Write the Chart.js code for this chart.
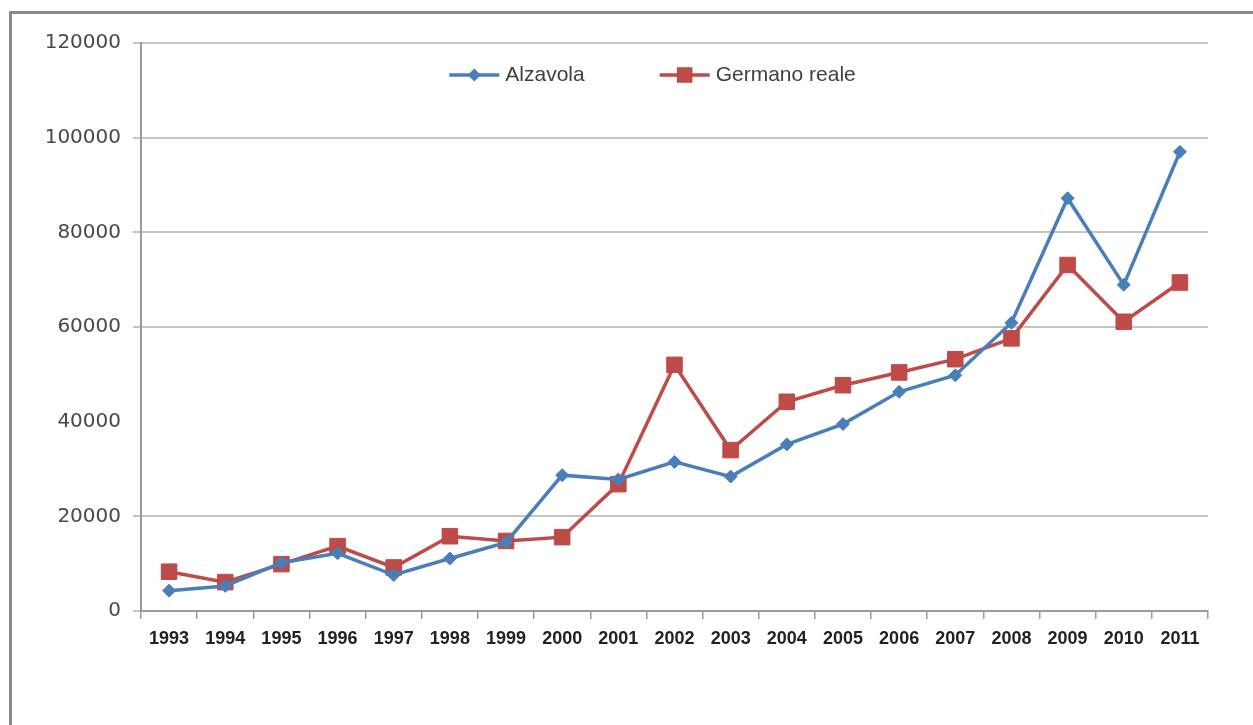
<!DOCTYPE html>
<html>
<head>
<meta charset="utf-8">
<script src="https://cdn.jsdelivr.net/npm/chart.js@4/dist/chart.umd.min.js"></script>
<style>
  html, body { margin: 0; padding: 0; background: #fff; }
  #wrap { position: relative; width: 1253px; height: 725px; overflow: hidden; background: #fff; }
  #frame { position: absolute; left: 9px; top: 11px; width: 1300px; height: 800px;
           border-left: 3px solid #8a8a8a; border-top: 3px solid #8a8a8a; }
  canvas { position: absolute; left: 0; top: 0; }
</style>
</head>
<body>
<div id="wrap">
  <div id="frame"></div>
  <canvas id="chart" width="1253" height="725"></canvas>
</div>
<script>
const years = ['1993','1994','1995','1996','1997','1998','1999','2000','2001','2002',
               '2003','2004','2005','2006','2007','2008','2009','2010','2011'];
const alzavola = [4300, 5300, 10200, 12200, 7600, 11100, 14500, 28700, 27800, 31500,
                  28400, 35200, 39500, 46300, 49800, 60900, 87200, 68900, 97000];
const germanoReale = [8300, 6100, 9900, 13700, 9200, 15800, 14800, 15600, 26800, 52000,
                      34000, 44200, 47700, 50400, 53200, 57600, 73100, 61100, 69400];
const yTicks = [0, 20000, 40000, 60000, 80000, 100000, 120000];
const hiddenGridValue = 40000; // this gridline is missing in the original picture

const BLUE = '#4a7ebb';
const RED = '#be4b48';
const GRID = '#c4c4c4';

const isHidden = c => !!(c && c.tick && c.tick.value === hiddenGridValue);

// legend drawn inside the plot, line + marker like the spreadsheet original
const lineLegend = {
  id: 'lineLegend',
  afterDatasetsDraw(chart) {
    const { ctx, chartArea } = chart;
    ctx.save();
    ctx.font = '21px "Liberation Sans"';
    ctx.textBaseline = 'middle';
    const y = chartArea.top + 32;
    const lineLen = 50, textGap = 6, gap = 75;
    const items = chart.data.datasets.map(ds => ({ ds, w: ctx.measureText(ds.label).width }));
    const total = items.reduce((s, it) => s + lineLen + textGap + it.w, 0) + gap * (items.length - 1);
    let x = (chartArea.left + chartArea.right) / 2 - 22 - total / 2;
    items.forEach(({ ds, w }) => {
      ctx.strokeStyle = ds.borderColor;
      ctx.lineWidth = ds.borderWidth;
      ctx.beginPath();
      ctx.moveTo(x, y);
      ctx.lineTo(x + lineLen, y);
      ctx.stroke();
      const cx = x + lineLen / 2;
      ctx.fillStyle = ds.backgroundColor;
      ctx.beginPath();
      if (ds.pointStyle === 'rectRot') {
        const r = ds.pointRadius;
        ctx.moveTo(cx - r, y); ctx.lineTo(cx, y - r); ctx.lineTo(cx + r, y); ctx.lineTo(cx, y + r);
      } else {
        const h = ds.pointRadius * Math.SQRT1_2;
        ctx.rect(cx - h, y - h, 2 * h, 2 * h);
      }
      ctx.closePath();
      ctx.fill();
      ctx.fillStyle = '#404040';
      ctx.fillText(ds.label, x + lineLen + textGap, y);
      x += lineLen + textGap + w + gap;
    });
    ctx.restore();
  }
};

new Chart(document.getElementById('chart'), {
  type: 'line',
  data: {
    labels: years,
    datasets: [
      {
        label: 'Alzavola',
        data: alzavola,
        borderColor: BLUE,
        backgroundColor: BLUE,
        borderWidth: 3.5,
        pointStyle: 'rectRot',
        pointRadius: 6.5,
        pointBorderWidth: 1,
        tension: 0,
      },
      {
        label: 'Germano reale',
        data: germanoReale,
        borderColor: RED,
        backgroundColor: RED,
        borderWidth: 3.5,
        pointStyle: 'rect',
        pointRadius: 11,
        pointBorderWidth: 1,
        tension: 0,
      },
    ],
  },
  options: {
    responsive: false,
    animation: false,
    devicePixelRatio: 1,
    layout: { padding: { top: 43, right: 45, bottom: 0, left: 0 } },
    plugins: {
      legend: { display: false },
      tooltip: { enabled: false },
    },
    scales: {
      x: {
        offset: true,
        grid: { offset: true, drawOnChartArea: false, drawTicks: true, tickLength: 8, color: '#9a9a9a', lineWidth: 1.5 },
        border: { color: '#9a9a9a', width: 2 },
        ticks: {
          autoSkip: false, maxRotation: 0, padding: 9,
          color: '#222', font: { family: '"Liberation Sans"', size: 18, weight: 'bold' },
        },
        afterFit: s => { s.height = 114; },
      },
      y: {
        min: 0,
        max: 120000,
        afterBuildTicks: s => { s.ticks = yTicks.map(v => ({ value: v })); },
        ticks: {
          padding: 12,
          color: '#484848',
          font: { family: '"DejaVu Sans"', size: 20 },
          callback: v => String(v),
        },
        grid: {
          tickLength: 8,
          lineWidth: 2,
          color: c => isHidden(c) ? '#ffffff' : GRID,
        },
        border: { color: '#9a9a9a', width: 2 },
        afterFit: s => { s.width = 141; },
      },
    },
  },
  plugins: [lineLegend],
});
</script>
</body>
</html>
